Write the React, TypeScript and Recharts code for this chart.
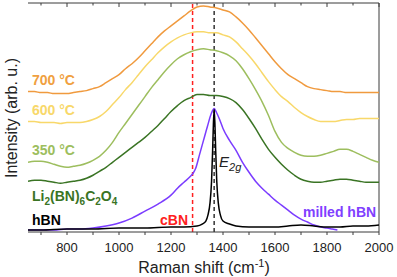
import { Line, LineChart, ReferenceLine, XAxis, YAxis } from "recharts";

// Raman shift grid (cm-1) for the broad annealed spectra
const shift = [
  650, 675, 700, 725, 750, 775, 800, 825, 850, 875, 900, 925, 950, 975, 1000,
  1025, 1050, 1075, 1100, 1125, 1150, 1175, 1200, 1225, 1250, 1275, 1300, 1325,
  1350, 1375, 1400, 1425, 1450, 1475, 1500, 1525, 1550, 1575, 1600, 1625, 1650,
  1675, 1700, 1725, 1750, 1775, 1800, 1825, 1850, 1875, 1900, 1925, 1950, 1975,
  2000,
];

// offset intensities (arb. u.)
const c700 = [
  141, 141, 140, 140, 139, 139, 139, 140, 141, 142, 144, 146, 150, 154, 158,
  164, 169, 175, 182, 189, 196, 202, 207, 212, 217, 222, 226, 227, 226, 225,
  223, 221, 216, 210, 203, 195, 187, 179, 171, 164, 158, 154, 150, 146, 144,
  143, 142, 141, 141, 140, 140, 140, 140, 140, 140,
];
const c600 = [
  111, 111, 110, 110, 110, 109, 110, 110, 110, 111, 113, 116, 121, 128, 135,
  143, 150, 158, 166, 173, 180, 186, 191, 195, 198, 200, 201, 201, 200, 200,
  198, 196, 191, 184, 177, 169, 160, 151, 143, 136, 131, 125, 120, 116, 113,
  111, 111, 111, 112, 113, 113, 114, 114, 114, 114,
];
const c350 = [
  70, 71, 71, 70, 68, 66, 65, 66, 67, 69, 72, 76, 82, 90, 100, 109, 118, 127,
  136, 145, 153, 161, 168, 174, 178, 181, 183, 184, 183, 182, 180, 177, 172,
  164, 154, 143, 131, 117, 101, 90, 84, 80, 77, 76, 76, 77, 79, 81, 83, 83, 81,
  78, 75, 72, 70,
];
const cLi = [
  51, 52, 52, 51, 50, 49, 50, 51, 52, 54, 57, 61, 65, 70, 75, 80, 85, 90, 95,
  101, 107, 114, 121, 127, 132, 135, 138, 138, 137, 137, 136, 134, 130, 123,
  114, 104, 93, 83, 75, 68, 62, 57, 53, 51, 50, 50, 51, 52, 53, 53, 52, 51, 50,
  50, 50,
];

const milledShift = [
  650, 700, 750, 800, 850, 900, 950, 1000, 1050, 1100, 1150, 1200, 1225, 1250,
  1275, 1285, 1295, 1310, 1325, 1340, 1355, 1366, 1375, 1387, 1400, 1425, 1450,
  1475, 1500, 1525, 1550, 1575, 1600, 1625, 1650, 1675, 1700, 1725, 1750, 1775,
  1800, 1820, 1840,
];
const milledValues = [
  2, 2, 2, 3, 3, 4, 6, 9, 14, 21, 28, 37, 44, 50, 56, 59, 64, 78, 92, 106, 119,
  124, 120, 113, 104, 92, 82, 70, 60, 51, 44, 38, 32, 27, 22, 17, 13, 10, 7, 5,
  4, 3, 2,
];

const hbnShift = [
  650, 700, 800, 900, 1000, 1100, 1200, 1250, 1300, 1320, 1334, 1342, 1350,
  1356, 1360, 1363, 1366, 1369, 1372, 1376, 1382, 1390, 1400, 1425, 1450, 1500,
  1550, 1600, 1650, 1700, 1750, 1800, 1850, 1900, 1950, 2000,
];
const hbnValues = [
  2, 2, 3, 3, 4, 4, 5, 5, 6, 8, 11, 17, 29, 51, 81, 108, 123, 108, 81, 51, 29,
  17, 11, 8, 6, 5, 5, 5, 6, 7, 6, 5, 5, 6, 6, 7,
];

const xTicks = [700, 800, 900, 1000, 1100, 1200, 1300, 1400, 1500, 1600, 1700, 1800, 1900, 2000];
const cBN = 1283;
const E2g = 1366;

const pts = (xs: number[], ys: number[]) => xs.map((x, i) => ({ x, y: ys[i] }));

const FONT = '"Liberation Sans", Arial, sans-serif';
const AXIS = "#3a3a3a";
const X_MIN = 650;
const X_MAX = 2000;
const Y_MAX = 230;

const series = [
  { name: "700", data: pts(shift, c700), color: "#F09A3E" },
  { name: "600", data: pts(shift, c600), color: "#F8D86A" },
  { name: "350", data: pts(shift, c350), color: "#9DBE5E" },
  { name: "li", data: pts(shift, cLi), color: "#3A7424" },
  { name: "milled", data: pts(milledShift, milledValues), color: "#7B3CFF" },
  { name: "hbn", data: pts(hbnShift, hbnValues), color: "#000000" },
];

function Tag({ left, top, color, children, style }: any) {
  return (
    <div
      style={{
        position: "absolute",
        left,
        top,
        color,
        fontSize: 14,
        fontWeight: "bold",
        lineHeight: "16px",
        whiteSpace: "nowrap",
        ...style,
      }}
    >
      {children}
    </div>
  );
}

export default function App() {
  return (
    <div
      style={{
        position: "absolute",
        left: 0,
        top: 0,
        width: 397,
        height: 277,
        background: "#fff",
        fontFamily: FONT,
      }}
    >
      <LineChart width={397} height={277} margin={{ top: 3, right: 18, bottom: 15, left: 28 }}>
        <XAxis
          type="number"
          dataKey="x"
          domain={[X_MIN, X_MAX]}
          allowDataOverflow
          ticks={xTicks}
          tickFormatter={(v: number) => (v % 200 === 0 ? String(v) : "")}
          tickSize={3}
          tickMargin={8}
          height={30}
          stroke={AXIS}
          tick={{ fill: "#222", fontSize: 13, fontFamily: FONT }}
        />
        <YAxis type="number" domain={[0, Y_MAX]} allowDataOverflow tick={false} tickLine={false} width={0} stroke={AXIS} />
        {/* frame: top and right borders, plus inward ticks on top */}
        <ReferenceLine y={Y_MAX} stroke={AXIS} ifOverflow="extendDomain" />
        <ReferenceLine x={X_MAX} stroke={AXIS} ifOverflow="extendDomain" />
        {xTicks.map((t) => (
          <ReferenceLine
            key={t}
            segment={[
              { x: t, y: Y_MAX },
              { x: t, y: Y_MAX - (t % 200 === 0 ? 4 : 2.5) },
            ]}
            stroke={AXIS}
          />
        ))}
        <ReferenceLine x={cBN} stroke="#FF2020" strokeDasharray="4 3" strokeWidth={1.5} />
        <ReferenceLine x={E2g} stroke="#333" strokeDasharray="4 3" strokeWidth={1.5} />
        {series.map((s) => (
          <Line
            key={s.name}
            data={s.data}
            dataKey="y"
            type="monotone"
            stroke={s.color}
            strokeWidth={1.5}
            dot={false}
            isAnimationActive={false}
          />
        ))}
      </LineChart>

      <Tag left={32} top={72} color="#F0A040">700 °C</Tag>
      <Tag left={32} top={102} color="#F8D86A">600 °C</Tag>
      <Tag left={32} top={142} color="#9DBE5E">350 °C</Tag>
      <Tag left={32} top={188} color="#3A7424">
        Li<sub style={{ fontSize: 10 }}>2</sub>(BN)<sub style={{ fontSize: 10 }}>6</sub>C
        <sub style={{ fontSize: 10 }}>2</sub>O<sub style={{ fontSize: 10 }}>4</sub>
      </Tag>
      <Tag left={32} top={212} color="#000">hBN</Tag>
      <Tag left={160} top={212} color="#FF2020">cBN</Tag>
      <Tag left={303} top={204} color="#8040FF">milled hBN</Tag>
      <Tag left={219} top={154} color="#222" style={{ fontWeight: "normal", fontStyle: "italic", fontSize: 15 }}>
        E<sub style={{ fontSize: 11 }}>2g</sub>
      </Tag>

      <div
        style={{
          position: "absolute",
          left: 12,
          top: 118,
          transform: "translate(-50%, -50%) rotate(-90deg)",
          fontSize: 16,
          color: "#222",
          whiteSpace: "nowrap",
        }}
      >
        Intensity (arb. u.)
      </div>
      <div
        style={{
          position: "absolute",
          left: 204,
          top: 267,
          transform: "translate(-50%, -50%)",
          fontSize: 16,
          color: "#222",
          whiteSpace: "nowrap",
        }}
      >
        Raman shift (cm<sup style={{ fontSize: 11 }}>-1</sup>)
      </div>
    </div>
  );
}
